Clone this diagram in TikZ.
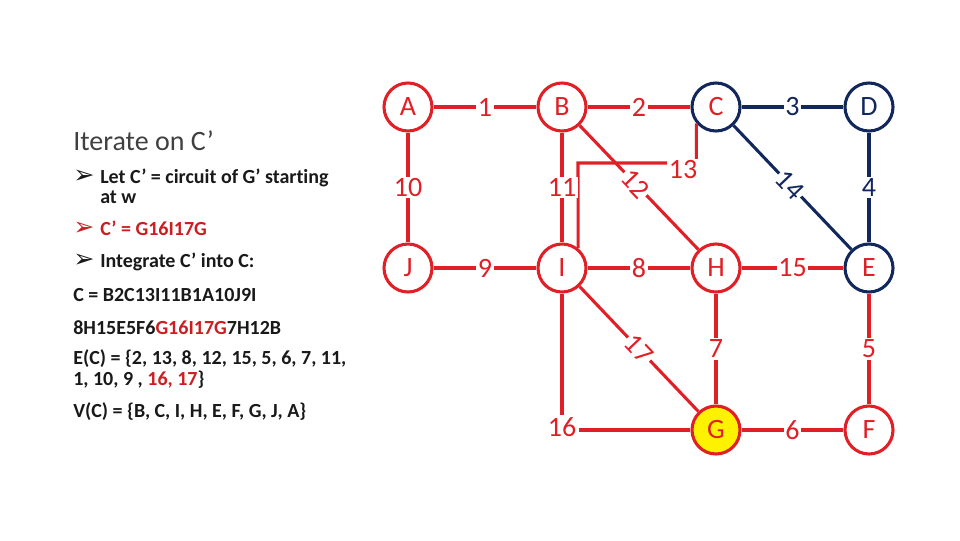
\documentclass[tikz,border=0pt]{standalone}
\usepackage{fontspec}
\usetikzlibrary{calc}
\setmainfont{Carlito}[RawFeature={-liga}]
\newfontfamily\dejavu{DejaVu Sans}
\definecolor{gred}{RGB}{224,32,38}
\definecolor{gnavy}{RGB}{18,40,92}
\definecolor{tred}{RGB}{204,30,34}
\definecolor{tdark}{RGB}{25,25,25}
\definecolor{ttitle}{RGB}{64,64,64}
\newcommand{\blt}{{\dejavu\mdseries\fontsize{19}{19}\selectfont ➢}}
\begin{document}
\begin{tikzpicture}[x=0.75pt,y=-0.75pt,
  vtx/.style={circle,draw=gred,line width=2.3pt,fill=white,minimum size=36pt,inner sep=0pt,
    font=\fontsize{21}{21}\selectfont,text=gred},
  nvtx/.style={vtx,draw=gnavy},
  edge/.style={line width=2.3pt,draw=gred},
  nedge/.style={edge,draw=gnavy},
  lbl/.style={fill=white,inner sep=1.2pt,text=gred,font=\fontsize{21}{21}\selectfont},
  nlbl/.style={lbl,text=gnavy},
  body/.style={anchor=base west,inner sep=0pt,text=tdark,font=\fontsize{15}{18}\selectfont\bfseries},
  ttl/.style={anchor=base west,inner sep=0pt,text=ttitle,font=\fontsize{21}{24}\selectfont}
]
\useasboundingbox (0,0) rectangle (960,540);

% text block
\node[ttl] (title) at (73,150) {Iterate on C’};
\node[body] (b1) at (73,183) {\blt};
\node[body] (t1) at (100,183) {Let C’ = circuit of G’ starting};
\node[body] (t1b) at (100,203) {at w};
\node[body,text=tred] (b2) at (73,235) {\blt};
\node[body,text=tred] (t2) at (100,235) {C’ = G16I17G};
\node[body] (b3) at (73,267) {\blt};
\node[body] (t3) at (100,267) {Integrate C’ into C:};
\node[body] (t4) at (73,301) {C = B2C13I11B1A10J9I};
\node[body] (t5) at (73,334) {8H15E5F6\textcolor{tred}{G16I17G}7H12B};
\node[body] (t6) at (73,364) {E(C) = \{2, 13, 8, 12, 15, 5, 6, 7, 11,};
\node[body] (t7) at (73,385) {1, 10, 9 , \textcolor{tred}{16, 17}\}};
\node[body] (t8) at (73,417) {V(C) = \{B, C, I, H, E, F, G, J, A\}};

% vertices
\node[vtx] (A) at (408,107) {A};
\node[vtx] (B) at (562,107) {B};
\node[nvtx] (C) at (716,107) {C};
\node[nvtx,text=gnavy] (D) at (869,107) {D};
\node[vtx] (J) at (408,268) {J};
\node[vtx] (I) at (562,268) {I};
\node[vtx] (H) at (716,268) {H};
\node[nvtx] (E) at (869,268) {E};
\node[vtx,fill=yellow] (G) at (716,430) {G};
\node[vtx] (F) at (869,430) {F};

% edges
\coordinate (k13) at (578,163);
\draw[edge] (C.220) |- (k13) -- (I.51);
\node[lbl] (l13) at (683,170) {13};

\draw[edge] (A) -- node[lbl]{1} (B);
\draw[edge] (B) -- node[lbl]{2} (C);
\draw[nedge] (C) -- node[nlbl]{3} (D);
\draw[nedge] (D) -- node[nlbl]{4} (E);
\draw[edge] (A) -- node[lbl]{10} (J);
\draw[edge] (B) -- node[lbl]{11} (I);
\draw[edge] (B) -- node[lbl,sloped,pos=0.47]{12} (H);
\draw[nedge] (C) -- node[nlbl,sloped,pos=0.48]{14} (E);
\draw[edge] (J) -- node[lbl]{9} (I);
\draw[edge] (I) -- node[lbl]{8} (H);
\draw[edge] (H) -- node[lbl]{15} (E);
\draw[edge] (E) -- node[lbl]{5} (F);
\draw[edge] (H) -- node[lbl]{7} (G);
\draw[edge] (G) -- node[lbl]{6} (F);
\draw[edge] (I) -- node[lbl,sloped]{17} (G);
\draw[edge] (I) -- (I |- G) -- (G);
\node[lbl,inner sep=2pt] (l16) at ($(I |- G)+(0,-3)$) {16};
\end{tikzpicture}
\end{document}
